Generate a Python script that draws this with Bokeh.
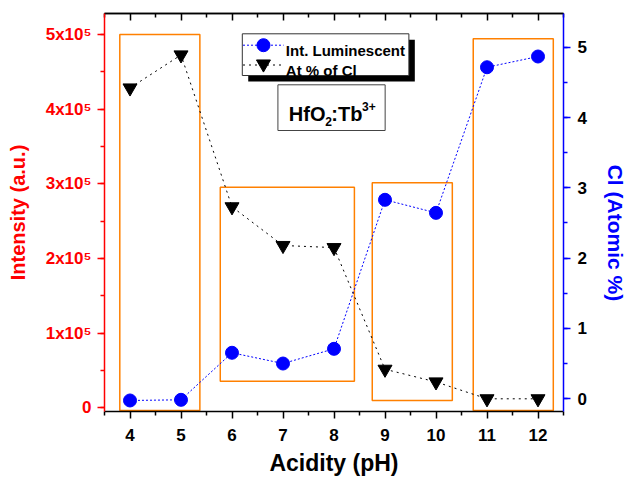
from bokeh.plotting import figure
from bokeh.models import Range1d, LinearAxis, SingleIntervalTicker, FixedTicker, BoxAnnotation, CustomJSTickFormatter
from bokeh.core.properties import value
from bokeh.embed import file_html
from bokeh.resources import INLINE
import json

# ---------------- data ----------------
ph = [4, 5, 6, 7, 8, 9, 10, 11, 12]
intensity = [9800, 10700, 73700, 59300, 79000, 278600, 261100, 456100, 470500]
cl_atomic = [4.42, 4.89, 2.73, 2.18, 2.15, 0.42, 0.24, 0.0, 0.0]

x_major_ticks = [4, 5, 6, 7, 8, 9, 10, 11, 12]
x_minor_ticks = [3.5, 4.5, 5.5, 6.5, 7.5, 8.5, 9.5, 10.5, 11.5, 12.5]
left_tick_labels = ["0", "1x10\u2075", "2x10\u2075", "3x10\u2075", "4x10\u2075", "5x10\u2075"]

# highlighted pH groups (pH span, intensity span)
box_left = [3.80, 5.77, 8.75, 10.73]
box_right = [5.37, 8.40, 10.32, 12.30]
box_top = [500000, 295400, 301300, 494200]
box_bottom = [-3600, 35600, 9800, -3600]

legend_labels = ["Int. Luminescent", "At % of Cl"]

# ---------------- layout ----------------
W, H = 629, 479
FL, FR, FT, FB = 104, 568, 13, 411
X0, X1 = 3.5, 12.5
Y0, Y1 = -4956, 528100
C0, C1 = -0.1806, 5.479

FONT = "Liberation Sans"
RED = "#FF0000"
BLUE = "#0000FF"
ORANGE = "#FF8000"


def dx(px):
    return X0 + (px - FL) * (X1 - X0) / (FR - FL)


def dy(py):
    return Y1 - (py - FT) * (Y1 - Y0) / (FB - FT)


p = figure(width=W, height=H, output_backend="svg", toolbar_location=None,
           x_range=Range1d(X0, X1), y_range=Range1d(Y0, Y1),
           x_axis_location=None, y_axis_location=None,
           min_border_left=FL, min_border_right=W - FR,
           min_border_top=FT, min_border_bottom=H - FB)
p.extra_y_ranges = {"cl": Range1d(C0, C1)}
p.outline_line_color = None
p.xgrid.visible = False
p.ygrid.visible = False
p.background_fill_color = "white"
p.border_fill_color = "white"


def style_axis(ax, line_color, label_color, title_color):
    ax.axis_line_color = line_color
    ax.axis_line_width = 1.5
    ax.major_tick_line_color = line_color
    ax.minor_tick_line_color = line_color
    ax.major_tick_line_width = 1.5
    ax.minor_tick_line_width = 1.5
    ax.major_tick_out = 7
    ax.major_tick_in = 0
    ax.minor_tick_out = 4
    ax.minor_tick_in = 0
    ax.major_label_text_font = FONT
    ax.major_label_text_font_style = "bold"
    ax.major_label_text_font_size = "17px"
    ax.major_label_text_color = label_color
    ax.axis_label_text_font = FONT
    ax.axis_label_text_font_style = "bold"
    ax.axis_label_text_color = title_color


xb = LinearAxis(ticker=FixedTicker(ticks=x_major_ticks, minor_ticks=x_minor_ticks), axis_label="Acidity (pH)")
style_axis(xb, "black", "black", "black")
xb.axis_label_text_font_size = "23px"
xb.major_label_standoff = 10
xb.axis_label_standoff = 6
p.add_layout(xb, "below")

# top frame edge: inward ticks, no labels
for tks, ln in ((x_major_ticks, 7), (x_minor_ticks, 4)):
    xt = LinearAxis(ticker=FixedTicker(ticks=[], minor_ticks=tks))
    style_axis(xt, "black", "black", "black")
    xt.major_tick_out = 0
    xt.minor_tick_out = 0
    xt.minor_tick_in = ln
    xt.major_label_standoff = 0
    p.add_layout(xt, "above")

fmt = CustomJSTickFormatter(code="const labels = %s; const i = Math.round(tick / 100000); return labels[i] ?? '';" % json.dumps(left_tick_labels))
yl = LinearAxis(ticker=SingleIntervalTicker(interval=100000, num_minor_ticks=2), formatter=fmt,
                axis_label="Intensity (a.u.)")
style_axis(yl, RED, RED, RED)
yl.axis_label_text_font_size = "20px"
yl.major_label_standoff = 6
yl.axis_label_standoff = 14
p.add_layout(yl, "left")

yr = LinearAxis(y_range_name="cl", ticker=SingleIntervalTicker(interval=1, num_minor_ticks=2),
                axis_label="\u00a0" * 7 + "Cl (Atomic %)")
style_axis(yr, BLUE, "black", BLUE)
yr.axis_label_text_font_size = "21px"
yr.major_label_standoff = 7
yr.axis_label_standoff = 14
p.add_layout(yr, "right")

# highlight boxes
for l, r, t, b in zip(box_left, box_right, box_top, box_bottom):
    p.add_layout(BoxAnnotation(left=l, right=r, top=t, bottom=b, fill_color=None,
                               line_color=ORANGE, line_alpha=1, line_width=1.5, level="underlay"))

# series
p.line(ph, intensity, line_color=BLUE, line_dash="2 2", line_width=1)
p.scatter(ph, intensity, marker="circle", size=13, fill_color=BLUE, line_color=BLUE)
p.line(ph, cl_atomic, y_range_name="cl", line_color="black", line_dash="2 4", line_width=1)
p.scatter(ph, cl_atomic, y_range_name="cl", marker="inverted_triangle", size=14,
          fill_color="black", line_color="black")

# legend (with drop shadow)
p.add_layout(BoxAnnotation(left=dx(249.3), right=dx(417.7), top=dy(39.3), bottom=dy(81),
                           fill_color="black", fill_alpha=1, line_color=None))
p.add_layout(BoxAnnotation(left=dx(243.3), right=dx(411.7), top=dy(33.3), bottom=dy(75),
                           fill_color="white", fill_alpha=1, line_color="#333333", line_alpha=1, line_width=1))
r = p.line([dx(244), dx(285)], [dy(44.7), dy(44.7)], line_color=BLUE, line_dash="2 2", line_width=1)
r.level = "overlay"
r = p.scatter([dx(264.7)], [dy(44.7)], marker="circle", size=13, fill_color=BLUE, line_color=BLUE)
r.level = "overlay"
r = p.line([dx(244), dx(285)], [dy(64.5), dy(64.5)], line_color="black", line_dash="2 4", line_width=1)
r.level = "overlay"
r = p.scatter([dx(264.7)], [dy(63.5)], marker="inverted_triangle", size=14, fill_color="black", line_color="black")
r.level = "overlay"
r = p.text(x=[dx(287.3), dx(287.3)], y=[dy(50), dy(70.3)], text=legend_labels,
           text_font=value(FONT), text_font_style="bold", text_font_size="15px",
           text_color="black", text_baseline="alphabetic", text_align="left")
r.level = "overlay"

# sample label HfO2:Tb3+
p.add_layout(BoxAnnotation(left=dx(279.3), right=dx(387.7), top=dy(84.3), bottom=dy(130),
                           fill_color="white", fill_alpha=1, line_color="#444444", line_alpha=1, line_width=1))
pieces = ["HfO", "2", ":Tb", "3+"]
piece_px = [290.3, 327.2, 333.3, 364.4]
piece_py = [113.3, 121.3, 113.3, 106.3]
piece_size = ["20px", "12px", "20px", "12px"]
for t, px, py, fs in zip(pieces, piece_px, piece_py, piece_size):
    r = p.text(x=[dx(px)], y=[dy(py)], text=[t], text_font=value(FONT), text_font_style="bold",
               text_font_size=fs, text_color="black", text_baseline="alphabetic", text_align="left")
    r.level = "overlay"

open("out.html", "w").write(file_html(p, INLINE))
